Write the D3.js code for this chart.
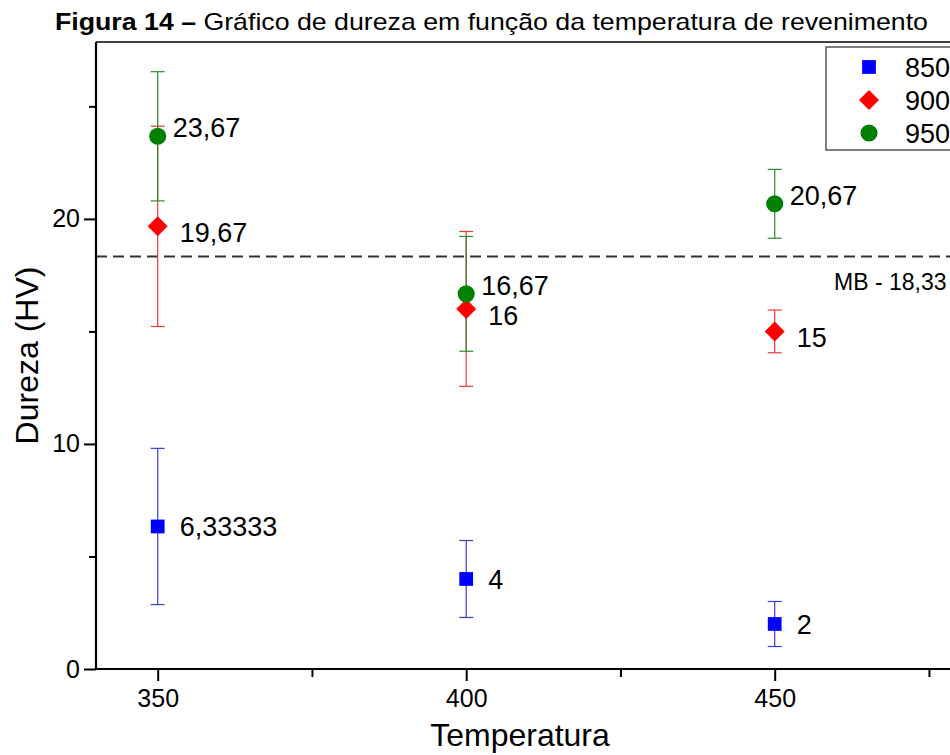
<!DOCTYPE html>
<html><head><meta charset="utf-8">
<script src="https://cdn.jsdelivr.net/npm/d3@7"></script>
<style>body{margin:0;background:#fff}svg{display:block;font-family:"Liberation Sans",Arial,sans-serif}</style>
</head><body><svg id="c" width="950" height="755"></svg>
<script>
const temperatures = [350, 400, 450];
const seriesNames = ["850", "900", "950"];
const mean850 = [6.33333, 4, 2];
const err850 = [3.47, 1.71, 1.0];
const mean900 = [19.67, 16, 15];
const err900 = [4.45, 3.44, 0.95];
const mean950 = [23.67, 16.67, 20.67];
const err950 = [2.87, 2.55, 1.53];
const labels850 = ["6,33333", "4", "2"];
const labels900 = ["19,67", "16", "15"];
const labels950 = ["23,67", "16,67", "20,67"];
const yMajorTicks = [0, 10, 20];
const yMinorTicks = [5, 15, 25];
const xMajorTicks = [350, 400, 450];
const xMinorTicks = [375, 425, 475];
const mbValue = 18.33;
const mbLabel = "MB - 18,33";

const series = [
  {name: seriesNames[0], mean: mean850, err: err850, labels: labels850, color: "#0000ff", bar: "#3b3bdc", shape: "square", dx: 22, dy: 0},
  {name: seriesNames[1], mean: mean900, err: err900, labels: labels900, color: "#ff0000", bar: "#e23b3b", shape: "diamond", dx: 22, dy: 6},
  {name: seriesNames[2], mean: mean950, err: err950, labels: labels950, color: "#008000", bar: "#2e8b2e", shape: "circle", dx: 15, dy: -9}
];

const svg = d3.select("#c");
const L = 96, B = 669, T = 42;
const x = d3.scaleLinear().domain([340, 500]).range([L, L + 160 * 6.17]);
const y = d3.scaleLinear().domain([0, 27.86]).range([B, T]);

// title
const title = svg.append("text").attr("x", 55).attr("y", 30)
  .style("font-family", "'Liberation Sans',Arial,sans-serif")
  .style("font-size", "24px").attr("fill", "#000");
title.append("tspan").attr("font-weight", "bold").text("Figura 14 – ");
title.append("tspan").text("Gráfico de dureza em função da temperatura de revenimento");
title.attr("textLength", 873).attr("lengthAdjust", "spacingAndGlyphs");

// frame top
svg.append("line").attr("x1", L).attr("x2", 950).attr("y1", T).attr("y2", T)
  .attr("stroke", "#000").attr("stroke-width", 1.5);

// mb line
svg.append("line").attr("x1", L).attr("x2", 950).attr("y1", y(mbValue)).attr("y2", y(mbValue))
  .attr("stroke", "#333").attr("stroke-width", 1.8).attr("stroke-dasharray", "11,6");
svg.append("text").attr("x", 834).attr("y", y(mbValue) + 34).style("font-size", "23px").text(mbLabel);

// axes
const yAxis = d3.axisLeft(y).tickValues(yMajorTicks).tickSize(12).tickPadding(4).tickFormat(d3.format("d"));
const yMinor = d3.axisLeft(y).tickValues(yMinorTicks).tickSize(7).tickFormat("");
const xAxis = d3.axisBottom(x).tickValues(xMajorTicks).tickSize(12).tickPadding(8).tickFormat(d3.format("d"));
const xMinor = d3.axisBottom(x).tickValues(xMinorTicks).tickSize(8).tickFormat("");

function styleAxis(g) {
  g.select(".domain").remove();
  g.selectAll("line").attr("stroke", "#000").attr("stroke-width", 2);
  g.selectAll("text").style("font-size", "25px").attr("fill", "#000").style("font-family", "'Liberation Sans',Arial,sans-serif");
}
svg.append("g").attr("transform", `translate(${L},0)`).call(yAxis).call(styleAxis);
svg.append("g").attr("transform", `translate(${L},0)`).call(yMinor).call(styleAxis);
svg.append("g").attr("transform", `translate(0,${B})`).call(xAxis).call(styleAxis);
svg.append("g").attr("transform", `translate(0,${B})`).call(xMinor).call(styleAxis);
svg.append("line").attr("x1", L).attr("x2", L).attr("y1", T).attr("y2", B + 1).attr("stroke", "#000").attr("stroke-width", 2.2);
svg.append("line").attr("x1", L - 1).attr("x2", 950).attr("y1", B).attr("y2", B).attr("stroke", "#000").attr("stroke-width", 2.2);

// axis titles
svg.append("text").attr("x", 520).attr("y", 746).attr("text-anchor", "middle")
  .style("font-size", "32px").text("Temperatura");
svg.append("text").attr("transform", `translate(38,${(T + B) / 2}) rotate(-90)`).attr("text-anchor", "middle")
  .style("font-size", "32px").text("Dureza (HV)");

const symbolFor = {
  square: d3.symbol().type(d3.symbolSquare).size(190),
  diamond: d3.symbol().type(d3.symbolSquare).size(200),
  circle: d3.symbol().type(d3.symbolCircle).size(230)
};

// error bars and points
series.forEach(s => {
  const g = svg.append("g");
  temperatures.forEach((t, i) => {
    const cx = x(t), top = y(s.mean[i] + s.err[i]), bot = y(s.mean[i] - s.err[i]);
    g.append("line").attr("x1", cx).attr("x2", cx).attr("y1", top).attr("y2", bot).attr("stroke", s.bar).attr("stroke-width", 1.2);
    [top, bot].forEach(yy => g.append("line").attr("x1", cx - 7).attr("x2", cx + 7).attr("y1", yy).attr("y2", yy).attr("stroke", s.bar).attr("stroke-width", 1.2));
  });
});
series.forEach(s => {
  const g = svg.append("g");
  temperatures.forEach((t, i) => {
    const cx = x(t), cy = y(s.mean[i]);
    g.append("path").attr("d", symbolFor[s.shape]())
      .attr("transform", `translate(${cx},${cy})` + (s.shape === "diamond" ? " rotate(45)" : ""))
      .attr("fill", s.color);
    g.append("text").attr("x", cx + s.dx).attr("y", cy + s.dy).attr("dy", "0.36em")
      .style("font-size", "27px").text(s.labels[i]);
  });
});

// legend
const lg = svg.append("g");
lg.append("rect").attr("x", 826).attr("y", 47).attr("width", 200).attr("height", 103)
  .attr("fill", "#fff").attr("stroke", "#555").attr("stroke-width", 1.5);
series.forEach((s, i) => {
  const cy = 67 + i * 33;
  lg.append("path").attr("d", symbolFor[s.shape]())
    .attr("transform", `translate(869,${cy})` + (s.shape === "diamond" ? " rotate(45)" : ""))
    .attr("fill", s.color);
  lg.append("text").attr("x", 905).attr("y", cy).attr("dy", "0.36em").style("font-size", "27px").text(s.name);
});
</script></body></html>
